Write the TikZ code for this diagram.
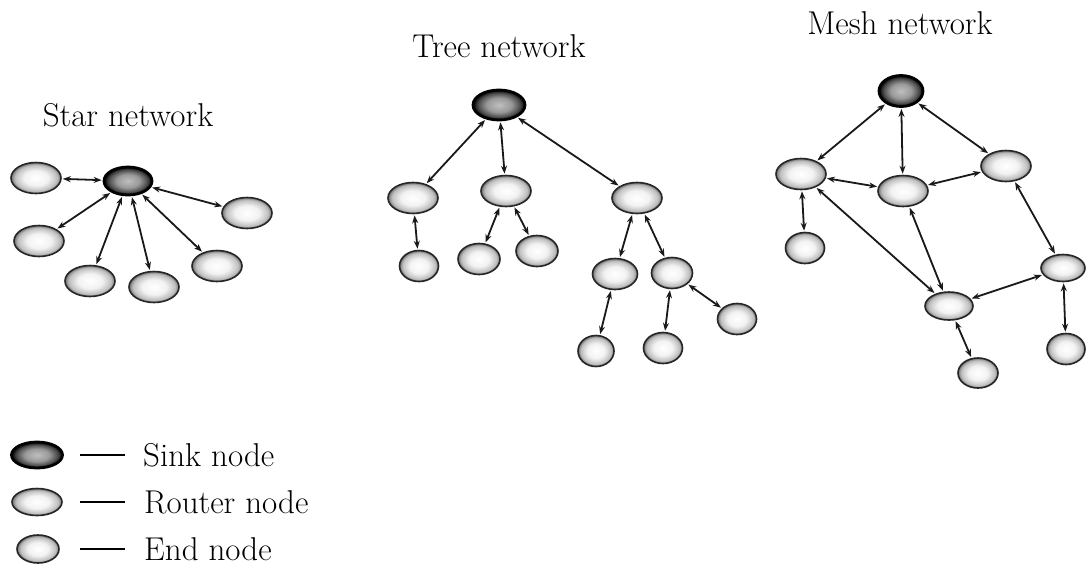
\documentclass[tikz,border=0pt]{standalone}
\usetikzlibrary{shapes.geometric,arrows.meta}
\pgfdeclareradialshading{routershade}{\pgfpoint{0bp}{0bp}}{color(0bp)=(white); color(12bp)=(white!95!black); color(21bp)=(white!75!black); color(25bp)=(white!45!black); color(50bp)=(white!45!black)}
\pgfdeclareradialshading{sinkshade}{\pgfpoint{0bp}{0bp}}{color(0bp)=(white!75!black); color(12bp)=(white!60!black); color(20bp)=(white!30!black); color(25bp)=(black); color(50bp)=(black)}
\tikzset{
  router/.style={ellipse, draw=black!85, line width=1.6pt, shading=routershade, inner sep=0pt, minimum width=50pt, minimum height=31pt},
  endnode/.style={ellipse, draw=black!85, line width=1.6pt, shading=routershade, inner sep=0pt, minimum width=39pt, minimum height=31pt},
  sink/.style={ellipse, draw=black, line width=2.8pt, shading=sinkshade, inner sep=0pt, minimum width=48pt, minimum height=28pt},
  link/.style={line width=1.8pt, black!90, {Stealth[length=8pt,width=6pt]}-{Stealth[length=8pt,width=6pt]}, shorten <=1pt, shorten >=1pt},
  title/.style={font=\fontsize{33}{36}\selectfont, inner sep=0pt},
  legtext/.style={font=\fontsize{33}{36}\selectfont, inner sep=0pt, anchor=west},
  legdash/.style={line width=2.2pt, black}
}
\begin{document}
\begin{tikzpicture}[x=1pt,y=-1pt]
\useasboundingbox[fill=white] (0,0) rectangle (1086,566);
% ---------- Star ----------
\node[title] (tstar) at (128,115) {Star network};
\node[sink] (s0) at (128,181) {};
\node[router] (s1) at (36,178) {};
\node[router] (s2) at (247,213) {};
\node[router] (s3) at (39,241) {};
\node[router] (s4) at (90,281) {};
\node[router] (s5) at (154,287) {};
\node[router] (s6) at (217,266) {};
\foreach \n in {s1,s2,s3,s4,s5,s6} \draw[link] (s0) -- (\n);
% ---------- Tree ----------
\node[title] (ttree) at (499,46) {Tree network};
\node[sink, minimum width=52pt, minimum height=30pt] (t0) at (499,105) {};
\node[router] (t1) at (413,198) {};
\node[router] (t2) at (506,191) {};
\node[router] (t3) at (637,198) {};
\node[endnode] (t4) at (419,266) {};
\node[endnode, minimum width=42pt] (t5) at (479,259) {};
\node[endnode, minimum width=42pt] (t6) at (537,251) {};
\node[router, minimum width=45pt] (t7) at (615,274) {};
\node[router, minimum width=41pt] (t8) at (672,273) {};
\node[endnode, minimum width=36pt] (t9) at (596,351) {};
\node[endnode] (t10) at (663,348) {};
\node[endnode] (t11) at (737,319) {};
\draw[link] (t0) -- (t1);
\draw[link] (t0) -- (t2);
\draw[link] (t0) -- (t3);
\draw[link] (t1) -- (t4);
\draw[link] (t2) -- (t5);
\draw[link] (t2) -- (t6);
\draw[link] (t3) -- (t7);
\draw[link] (t3) -- (t8);
\draw[link] (t7) -- (t9);
\draw[link] (t8) -- (t10);
\draw[link] (t8) -- (t11);
% ---------- Mesh ----------
\node[title] (tmesh) at (900,23) {Mesh network};
\node[sink, minimum width=44pt, minimum height=31pt] (m0) at (901,91) {};
\node[router] (m1) at (801,174) {};
\node[router] (m2) at (903,191) {};
\node[router] (m3) at (1006,166) {};
\node[endnode] (m4) at (805,248) {};
\node[router, minimum width=44pt, minimum height=27pt] (m5) at (1063,268) {};
\node[router, minimum width=48pt, minimum height=28pt] (m6) at (949,306) {};
\node[endnode, minimum width=38pt] (m7) at (1066,349) {};
\node[endnode, minimum width=40pt, minimum height=30pt] (m8) at (978,373) {};
\draw[link] (m0) -- (m1);
\draw[link] (m0) -- (m2);
\draw[link] (m0) -- (m3);
\draw[link] (m1) -- (m2);
\draw[link] (m2) -- (m3);
\draw[link] (m1) -- (m4);
\draw[link] (m1) -- (m6);
\draw[link] (m2) -- (m6);
\draw[link] (m3) -- (m5);
\draw[link] (m6) -- (m5);
\draw[link] (m5) -- (m7);
\draw[link] (m6) -- (m8);
% ---------- Legend ----------
\node[sink, minimum width=51pt, minimum height=26pt] (lsink) at (37,455) {};
\node[router, minimum width=50pt, minimum height=27pt] (lrouter) at (37,502) {};
\node[endnode, minimum width=42pt, minimum height=28pt] (lend) at (38,549) {};
\coordinate (d1a) at (80,455); \coordinate (d1b) at (125,455);
\coordinate (d2a) at (80,502); \coordinate (d2b) at (125,502);
\coordinate (d3a) at (80,549); \coordinate (d3b) at (125,549);
\draw[legdash] (d1a) -- (d1b);
\draw[legdash] (d2a) -- (d2b);
\draw[legdash] (d3a) -- (d3b);
\node[legtext] (lsinkt) at (143,455) {Sink node};
\node[legtext] (lroutert) at (144,502) {Router node};
\node[legtext] (lendt) at (144,549) {End node};
\end{tikzpicture}
\end{document}
